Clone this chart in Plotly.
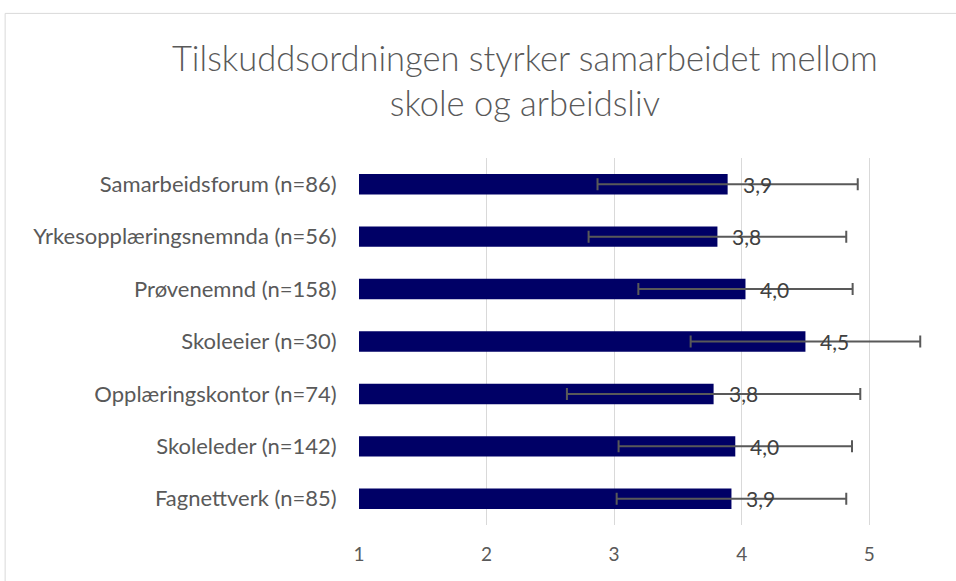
import plotly.graph_objects as go

categories = [
    "Fagnettverk (n=85)",
    "Skoleleder (n=142)",
    "Opplæringskontor (n=74)",
    "Skoleeier (n=30)",
    "Prøvenemnd (n=158)",
    "Yrkesopplæringsnemnda (n=56)",
    "Samarbeidsforum (n=86)",
]
means = [3.92, 3.95, 3.78, 4.50, 4.03, 3.81, 3.89]
errors = [0.90, 0.915, 1.15, 0.90, 0.84, 1.01, 1.02]
labels = ["3,9", "4,0", "3,8", "4,5", "4,0", "3,8", "3,9"]
tick_vals = [1, 2, 3, 4, 5]

FONT = "Lato"
GRAY = "#595959"

fig = go.Figure()
fig.add_trace(go.Bar(
    y=categories,
    x=[m - 1 for m in means],
    base=1,
    orientation="h",
    marker=dict(color="#000066", line=dict(width=0)),
    width=0.39,
    error_x=dict(type="data", array=errors, visible=True,
                 color=GRAY, thickness=2, width=6),
    hoverinfo="skip",
))

annotations = []
for c, m, t in zip(categories, means, labels):
    annotations.append(dict(
        x=m, y=c, xref="x", yref="y", text=t, showarrow=False,
        xanchor="left", yanchor="middle", xshift=13, yshift=0,
        font=dict(family=FONT, size=21, color="#404040"),
    ))

fig.update_layout(
    width=956, height=581,
    margin=dict(l=359, r=23, t=158, b=56, autoexpand=False),
    paper_bgcolor="white", plot_bgcolor="white",
    showlegend=False,
    title=dict(
        text="Tilskuddsordningen styrker samarbeidet mellom<br>skole og arbeidsliv",
        x=0.549, xanchor="center", y=0.877, yanchor="middle",
        font=dict(family=FONT, size=34.5, color=GRAY, weight=300),
    ),
    xaxis=dict(
        range=[1, 5.5], tickvals=tick_vals, ticktext=[str(v) for v in tick_vals],
        showgrid=True, gridcolor="#d9d9d9", gridwidth=1.3,
        zeroline=False, showline=False, ticks="outside", ticklen=12,
        tickcolor="rgba(0,0,0,0)",
        tickfont=dict(family=FONT, size=19, color=GRAY),
        fixedrange=True,
    ),
    yaxis=dict(
        categoryorder="array", categoryarray=categories,
        showgrid=False, zeroline=False, showline=False, ticks="outside",
        ticklen=17, tickcolor="rgba(0,0,0,0)",
        tickfont=dict(family=FONT, size=22, color=GRAY),
        fixedrange=True,
    ),
    annotations=annotations,
    shapes=[dict(
        type="rect", xref="paper", yref="paper",
        x0=-0.6165, x1=2.0, y0=-1.0, y1=1.394,
        line=dict(color="#d9d9d9", width=1), fillcolor="rgba(0,0,0,0)",
        layer="below",
    )],
)

fig.write_html(
    "out.html",
    config={"displayModeBar": False},
    post_script="document.body.style.margin='0';document.body.style.overflow='hidden';",
)
